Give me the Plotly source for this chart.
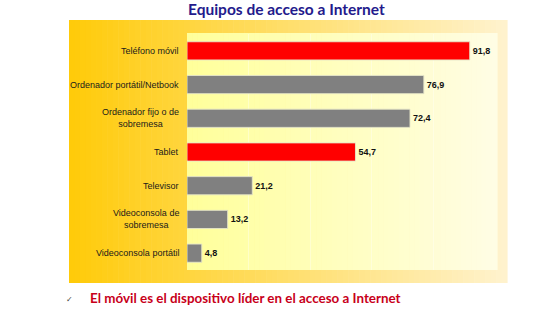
import plotly.graph_objects as go

categories = ["Teléfono móvil", "Ordenador portátil/Netbook", "Ordenador fijo o de<br>sobremesa",
              "Tablet", "Televisor", "Videoconsola de<br>sobremesa", "Videoconsola portátil"]
values = [91.8, 76.9, 72.4, 54.7, 21.2, 13.2, 4.8]
highlight = [True, False, False, True, False, False, False]
title_text = "Equipos de acceso a Internet"
footnote = "El móvil es el dispositivo líder en el acceso a Internet"

W, H = 560, 314
L, R, T, B = 187, 495, 34, 270

def px_x(p):
    return (p - L) / (R - L)

def px_y(p):
    return (B - p) / (B - T)

def lerp(c1, c2, t):
    return "rgb(%d,%d,%d)" % tuple(round(a + (b - a) * t) for a, b in zip(c1, c2))

shapes = []
# outer gradient box
ox0, ox1, oy0, oy1 = 69, 507, 20, 283
n = 80
for i in range(n):
    a = ox0 + (ox1 - ox0) * i / n
    b = ox0 + (ox1 - ox0) * (i + 1) / n + 0.6
    shapes.append(dict(type="rect", xref="paper", yref="paper", layer="below",
                       x0=px_x(a), x1=px_x(b), y0=px_y(oy1), y1=px_y(oy0),
                       line=dict(width=0),
                       fillcolor=lerp((255, 203, 10), (255, 242, 205), i / (n - 1))))
# inner gradient area
ix0, ix1, iy0, iy1 = 187, 497, 33, 270
m = 60
for i in range(m):
    a = ix0 + (ix1 - ix0) * i / m
    b = ix0 + (ix1 - ix0) * (i + 1) / m + 0.6
    shapes.append(dict(type="rect", xref="paper", yref="paper", layer="below",
                       x0=px_x(a), x1=px_x(b), y0=px_y(iy1), y1=px_y(iy0),
                       line=dict(width=0),
                       fillcolor=lerp((255, 255, 155), (255, 253, 228), i / (m - 1))))

colors = ["#FF0000" if h else "#808080" for h in highlight]
fig = go.Figure(go.Bar(
    y=categories, x=values, orientation="h",
    marker=dict(color=colors, line=dict(color="rgba(230,230,200,0.9)", width=1)),
    width=0.54,
    texttemplate="<b>%{x:.1f}</b>", textposition="outside", cliponaxis=False,
    textfont=dict(family="Liberation Sans", size=9, color="#111111"),
))

annotations = []
for c in categories:
    annotations.append(dict(xref="paper", yref="y", x=0, y=c, xanchor="right", yanchor="middle",
                            xshift=-6, text=c, showarrow=False, align="center",
                            font=dict(family="Liberation Sans", size=9, color="#1a1a1a")))
annotations.append(dict(xref="paper", yref="paper", x=px_x(286), y=px_y(9), xanchor="center",
                        yanchor="middle", text="<b>" + title_text + "</b>", showarrow=False,
                        font=dict(family="Lato", size=15.5, color="#231A8C")))
annotations.append(dict(xref="paper", yref="paper", x=px_x(88), y=px_y(298), xanchor="left",
                        yanchor="middle", text="<b>" + footnote + "</b>", showarrow=False,
                        font=dict(family="Lato", size=13.4, color="#C8001A")))
annotations.append(dict(xref="paper", yref="paper", x=px_x(69), y=px_y(299), xanchor="center",
                        yanchor="middle", text="✓", showarrow=False,
                        font=dict(family="DejaVu Sans", size=8, color="#444444")))

fig.update_layout(
    width=W, height=H, margin=dict(l=L, r=W - R, t=T, b=H - B),
    paper_bgcolor="white", plot_bgcolor="rgba(0,0,0,0)",
    separators=",.", showlegend=False, shapes=shapes, annotations=annotations,
    xaxis=dict(range=[0, 100], showticklabels=False, showgrid=True,
               gridcolor="rgba(255,255,255,0.35)", gridwidth=1, dtick=20, zeroline=False,
               showline=False, fixedrange=True),
    yaxis=dict(autorange="reversed", showticklabels=False, showgrid=False, zeroline=False,
               showline=False, fixedrange=True),
)
fig.write_html("out.html")
